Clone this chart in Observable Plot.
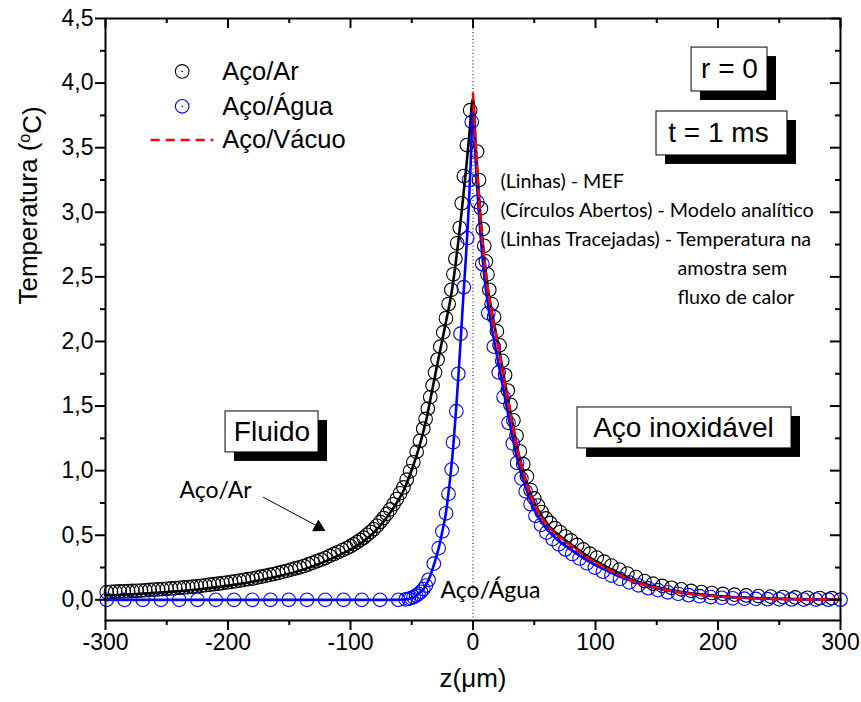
<!DOCTYPE html>
<html><head><meta charset="utf-8">
<script src="https://cdn.jsdelivr.net/npm/d3@7"></script>
<script src="https://cdn.jsdelivr.net/npm/@observablehq/plot@0.6"></script>
<style>body{margin:0;background:#fff}</style>
</head><body><div id="chart"></div>
<script>
// ---- MEF lines ----
const arLineZ = [-300,-275,-250,-225,-200,-180,-160,-140,-120,-100,-90,-80,-71,-63,-56,-51,-46.6,-42,-38,-34.4,-29,-23.6,-16.8,-10,-6,-3,0,2,4,6,8,10,12,15,18.4,22,25,28,31,34,37,40,43,46,50,55,60,67,75,85,94,105,115,130,145,160,180,200,225,250,275,300];
const arLineT = [0.035,0.045,0.06,0.08,0.11,0.14,0.18,0.23,0.30,0.39,0.45,0.53,0.63,0.74,0.86,0.98,1.1,1.25,1.40,1.57,1.83,2.08,2.42,2.94,3.3,3.6,3.88,3.55,3.25,2.98,2.76,2.58,2.42,2.25,2.08,1.9,1.74,1.58,1.43,1.28,1.14,1.03,0.93,0.845,0.755,0.665,0.595,0.525,0.465,0.395,0.335,0.275,0.225,0.155,0.11,0.078,0.048,0.03,0.016,0.008,0.004,0.002];

const aguaLineZ = [-300,-62,-57,-52,-48,-44,-40,-37,-34,-31,-28,-25,-22,-20,-18,-16,-14,-12,-10,-8,-6,-4,-2,0,2,4,6,8,10,12,15,18.4,22,25,28,31,34,37,40,43,46,50,55,60,67,75,85,94,105,115,130,145,160,180,200,225,250,275,300];
const aguaLineT = [0,0,0.002,0.008,0.022,0.05,0.09,0.14,0.21,0.30,0.40,0.53,0.68,0.83,1.0,1.2,1.45,1.72,2.02,2.33,2.62,2.94,3.35,3.80,3.42,3.1,2.84,2.62,2.44,2.3,2.12,1.95,1.77,1.62,1.47,1.32,1.18,1.06,0.96,0.87,0.79,0.70,0.615,0.55,0.48,0.42,0.355,0.30,0.245,0.2,0.145,0.1,0.07,0.043,0.027,0.014,0.007,0.003,0.001];

const vacuoLineZ = [0,2,4,6,8,10,12,15,18.4,22,25,28,31,34,37,40,43,46,50,55,60,67,75,85,94,105,115,130,145,160,180,200,225,250,275,300];
const vacuoLineT = [3.92,3.56,3.25,2.97,2.75,2.57,2.41,2.24,2.07,1.89,1.73,1.57,1.42,1.27,1.13,1.02,0.92,0.835,0.745,0.655,0.585,0.515,0.455,0.385,0.325,0.265,0.215,0.148,0.104,0.073,0.044,0.027,0.013,0.006,0.003,0.001];

// ---- analytic model (open circles) ----
const arCircZ = [-299,-295.5,-292,-288.5,-285,-281.5,-278,-274.5,-271,-267.5,-264,-260.5,-257,-253.5,-250,-246.5,-243,-239.5,-236,-232.5,-229,-225.5,-222,-218.5,-215,-211.5,-208,-204.5,-201,-197.5,-194,-190.5,-187,-183.5,-180,-176.5,-173,-169.5,-166,-162.5,-159,-155.5,-152,-148.5,-145,-141.5,-138,-134.5,-131,-127.5,-124,-120.5,-117,-113.5,-110,-106.5,-103,-100,-97.3,-94.6,-91.9,-89.2,-86.5,-83.8,-81.1,-78.4,-75.7,-73,-70.3,-67.6,-64.9,-62.2,-59.5,-56.8,-54.1,-51.4,-48.7,-46,-43.3,-40.6,-38.7,-36.9,-34.9,-33,-31,-28.9,-26.7,-24.3,-22.1,-19.9,-17.7,-16,-14.4,-12.9,-10.8,-9.2,-7.5,-5,-2.3,
  3.3,4.9,6.5,8,9.2,10.5,11.8,13.3,15.2,17.2,19.5,21.7,23.9,26.2,28.4,30.6,33,35.5,38.2,41,44,47,50,53,56,59.5,63,67,71,75.5,80,85,90,95.5,101,107,113,119.5,126,133,140,147,154.5,162,170,178,186.5,195,204,213.5,223,233,243,253,263,273,283,293];
const arCircT = [0.06,0.062,0.063,0.065,0.066,0.067,0.069,0.07,0.072,0.074,0.077,0.079,0.081,0.083,0.085,0.088,0.091,0.093,0.096,0.099,0.102,0.105,0.109,0.113,0.117,0.121,0.125,0.13,0.134,0.139,0.144,0.149,0.155,0.16,0.165,0.172,0.179,0.186,0.193,0.2,0.208,0.216,0.225,0.234,0.243,0.251,0.262,0.274,0.287,0.299,0.311,0.323,0.34,0.355,0.37,0.385,0.40,0.415,0.43,0.447,0.464,0.481,0.503,0.525,0.546,0.573,0.603,0.633,0.665,0.70,0.74,0.78,0.825,0.87,0.93,0.995,1.065,1.145,1.23,1.325,1.40,1.48,1.57,1.66,1.76,1.86,1.96,2.07,2.18,2.29,2.40,2.52,2.64,2.76,2.88,3.07,3.28,3.52,3.79,
  3.47,3.25,3.03,2.87,2.74,2.62,2.52,2.40,2.29,2.19,2.08,1.97,1.85,1.74,1.62,1.51,1.39,1.27,1.15,1.05,0.955,0.85,0.785,0.73,0.68,0.63,0.595,0.555,0.525,0.49,0.46,0.425,0.39,0.357,0.327,0.295,0.265,0.234,0.204,0.176,0.145,0.125,0.108,0.093,0.081,0.069,0.06,0.053,0.046,0.04,0.034,0.029,0.025,0.022,0.019,0.016,0.014,0.013];

const aguaCircZ = [-299,-284.5,-269.6,-254.7,-239.8,-224.9,-210,-195.1,-180.2,-165.3,-150.4,-135.5,-120.6,-105.7,-90.8,-75.9,-61,
  -55,-52.5,-50.5,-48.5,-46.5,-44.5,-42.5,-40.5,-38.5,-36.3,
  -32,-28,-25,-22,-20,-17.4,-16.3,-13.6,-12,-10.2,-7.5,-4.7,-3.2,-1,
  3.5,7.6,12.5,17,21,25,29,32.5,36,39.5,43,47,51,55.5,60,65,70,75.5,81,87,93,99.5,106,113,120,127.5,135,143,151,159,167.5,176,185,194,203,212,221.5,231,240.5,250,260,270,280,290,300];
const aguaCircT = [0,0,0,0,0,0,0,0,0,0,0,0,0,0,0,0,0,
  0.004,0.008,0.014,0.022,0.032,0.046,0.062,0.083,0.11,0.155,
  0.28,0.40,0.53,0.67,0.82,1.01,1.22,1.46,1.75,2.06,2.42,2.80,3.25,3.70,
  3.08,2.6,2.22,1.96,1.76,1.57,1.37,1.21,1.06,0.94,0.84,0.74,0.65,0.58,0.52,0.47,0.43,0.39,0.355,0.32,0.283,0.25,0.218,0.188,0.162,0.135,0.112,0.09,0.075,0.058,0.047,0.036,0.028,0.021,0.016,0.012,0.009,0.007,0.005,0.004,0.003,0.002,0.002,0.001,0.001];

// ---- axes ----
const xMajor = [-300,-200,-100,0,100,200,300];
const xMinor = [-250,-150,-50,50,150,250];
const yMajor = [0,0.5,1,1.5,2,2.5,3,3.5,4,4.5];
const yMinor = [0.25,0.75,1.25,1.75,2.25,2.75,3.25,3.75,4.25];
const xTitle = "z(\u03bcm)";
const yTitle = "Temperatura (°C)";

// ---- legend ----
const legendLabels = ["Aço/Ar", "Aço/Água", "Aço/Vácuo"];
const legendColors = ["black", "blue", "red"];
const legendT = [4.09, 3.82, 3.56];
const legendSymbolZ = -237.4;
const legendTextZ = -204.7;
const legendDashZ = [-262.7, -211.6];

// ---- boxed labels ----
const boxLabels = ["r = 0", "t = 1 ms", "Fluido", "Aço inoxidável"];
const boxZ1 = [178.4, 149.8, -202, 85.3];
const boxZ2 = [240.4, 256.7, -126.1, 260];
const boxTtop = [4.275, 3.78, 1.458, 1.489];
const boxTbot = [3.935, 3.44, 1.141, 1.172];
const boxTextZ = [209.4, 200.4, -164.1, 171.8];
const boxTextT = [4.105, 3.61, 1.30, 1.33];

// ---- notes ----
const noteLines = ["(Linhas) - MEF", "(Círculos Abertos) - Modelo analítico", "(Linhas Tracejadas) - Temperatura na", "amostra sem", "fluxo de calor"];
const noteZ = [22.4, 22.4, 22.4, 166.9, 166.9];
const noteT = [3.238, 3.014, 2.789, 2.565, 2.340];
const curveLabels = ["Aço/Ar", "Aço/Água"];
const curveLabelZ = [-239.6, -26.5];
const curveLabelT = [0.847, 0.073];
const arrowFrom = {z: -171, t: 0.793};
const arrowTo = {z: -122, t: 0.545};

const rows = (zs, ts) => zs.map((z, i) => ({z, t: ts[i]}));
const arLine = rows(arLineZ, arLineT);
const aguaLine = rows(aguaLineZ, aguaLineT);
const vacuoLine = rows(vacuoLineZ, vacuoLineT);
const arCirc = rows(arCircZ, arCircT);
const aguaCirc = rows(aguaCircZ, aguaCircT);
const legend = legendLabels.map((l, i) => ({l, c: legendColors[i], t: legendT[i]}));
const boxes = boxLabels.map((l, i) => ({l, z1: boxZ1[i], z2: boxZ2[i], t1: boxTtop[i], t2: boxTbot[i], tz: boxTextZ[i], tt: boxTextT[i]}));
const notes = noteLines.map((l, i) => ({l, z: noteZ[i], t: noteT[i]}));
const clabels = curveLabels.map((l, i) => ({l, z: curveLabelZ[i], t: curveLabelT[i]}));

const fmtY = d => d.toFixed(1).replace(".", ",");
const fmtX = d => String(d);
const sans = "'Liberation Sans', Arial, sans-serif";
const calib = "Lato, 'Open Sans', sans-serif";
const W = 861, H = 702, mL = 105, mR = 21, mT = 18, mB = 82;
const fw = W - mL - mR, fh = H - mT - mB;
const majLen = 10, minLen = 5;

const chart = Plot.plot({
  width: W, height: H,
  marginLeft: mL, marginRight: mR, marginTop: mT, marginBottom: mB,
  x: {domain: [-300, 300]},
  y: {domain: [-0.16, 4.5]},
  style: {fontFamily: sans, background: "white", color: "black"},
  marks: [
    Plot.ruleX([0], {stroke: "black", strokeWidth: 1, strokeDasharray: "1,2.5"}),
    // boxes
    Plot.rect(boxes, {x1: "z1", x2: "z2", y1: "t1", y2: "t2", fill: "black", dx: 9, dy: 9}),
    Plot.rect(boxes, {x1: "z1", x2: "z2", y1: "t1", y2: "t2", fill: "white", stroke: "black", strokeWidth: 1}),
    Plot.text(boxes, {x: "tz", y: "tt", text: "l", fontSize: 28, fill: "black"}),
    // data
    Plot.dot(arCirc, {x: "z", y: "t", r: 6.8, stroke: "black", strokeWidth: 1.1, fill: "none"}),
    Plot.dot(aguaCirc, {x: "z", y: "t", r: 6.8, stroke: "blue", strokeWidth: 1.1, fill: "none"}),
    Plot.line(arLine, {x: "z", y: "t", stroke: "black", strokeWidth: 2.6, curve: "monotone-x"}),
    Plot.line(aguaLine, {x: "z", y: "t", stroke: "blue", strokeWidth: 2.6, curve: "monotone-x"}),
    Plot.line(vacuoLine, {x: "z", y: "t", stroke: "red", strokeWidth: 2.6, strokeDasharray: "7,5", curve: "monotone-x"}),
    // legend
    Plot.dot(legend.slice(0, 2), {x: () => legendSymbolZ, y: "t", r: 6.8, stroke: "c", strokeWidth: 1.1, fill: "none"}),
    Plot.dot(legend.slice(0, 2), {x: () => legendSymbolZ, y: "t", r: 0.8, fill: "c"}),
    Plot.ruleY(legend.slice(2), {y: "t", x1: () => legendDashZ[0], x2: () => legendDashZ[1], stroke: "red", strokeWidth: 2.6, strokeDasharray: "9,6"}),
    Plot.text(legend, {x: () => legendTextZ, y: "t", text: "l", textAnchor: "start", fontSize: 25.5, fill: "black"}),
    // notes
    Plot.text(notes, {x: "z", y: "t", text: "l", textAnchor: "start", fontSize: 19.7, fontFamily: calib, fill: "black"}),
    Plot.text(clabels, {x: "z", y: "t", text: "l", textAnchor: "start", fontSize: 23, fontFamily: calib, fill: "black"}),
    Plot.arrow([{}], {x1: () => arrowFrom.z, y1: () => arrowFrom.t, x2: () => arrowTo.z, y2: () => arrowTo.t, stroke: "black", strokeWidth: 1, headLength: 0}),
    Plot.dot([{}], {x: () => arrowTo.z - 4, y: () => arrowTo.t + 0.017, symbol: "triangle", r: 5, fill: "black", rotate: 118}),
    // frame & axes
    Plot.frame({stroke: "black", strokeWidth: 2}),
    Plot.axisX(xMajor, {anchor: "bottom", tickSize: majLen, tickPadding: 3, tickFormat: fmtX, fontSize: 23, strokeWidth: 2, label: null}),
    Plot.axisX(xMinor, {anchor: "bottom", tickSize: minLen, tickFormat: () => "", strokeWidth: 2, label: null}),
    Plot.tickX(xMajor, {x: d => d, insetBottom: fh - majLen, stroke: "black", strokeWidth: 2}),
    Plot.tickX(xMinor, {x: d => d, insetBottom: fh - minLen, stroke: "black", strokeWidth: 2}),
    Plot.axisY(yMajor, {anchor: "left", tickSize: majLen, tickPadding: 2, tickFormat: fmtY, fontSize: 23, strokeWidth: 2, label: null}),
    Plot.axisY(yMinor, {anchor: "left", tickSize: minLen, tickFormat: () => "", strokeWidth: 2, label: null}),
    Plot.tickY(yMajor, {y: d => d, insetLeft: fw - majLen, stroke: "black", strokeWidth: 2}),
    Plot.tickY(yMinor, {y: d => d, insetLeft: fw - minLen, stroke: "black", strokeWidth: 2}),
    Plot.text([yTitle], {frameAnchor: "left", dx: -77, dy: -15, rotate: -90, fontSize: 26, fill: "black"}),
    Plot.text([xTitle], {frameAnchor: "bottom", dy: 66, fontSize: 26, fill: "black"})
  ]
});
document.getElementById("chart").appendChild(chart);

// superscript "o" in the y title
d3.select(chart).selectAll("text").filter(function() { return this.textContent === yTitle; })
  .each(function() {
    const t = d3.select(this);
    t.text(null);
    t.append("tspan").text("Temperatura (");
    t.append("tspan").attr("dy", "-0.45em").attr("font-size", "16").text("o");
    t.append("tspan").attr("dy", "0.45em").text("C)");
  });
</script></body></html>
